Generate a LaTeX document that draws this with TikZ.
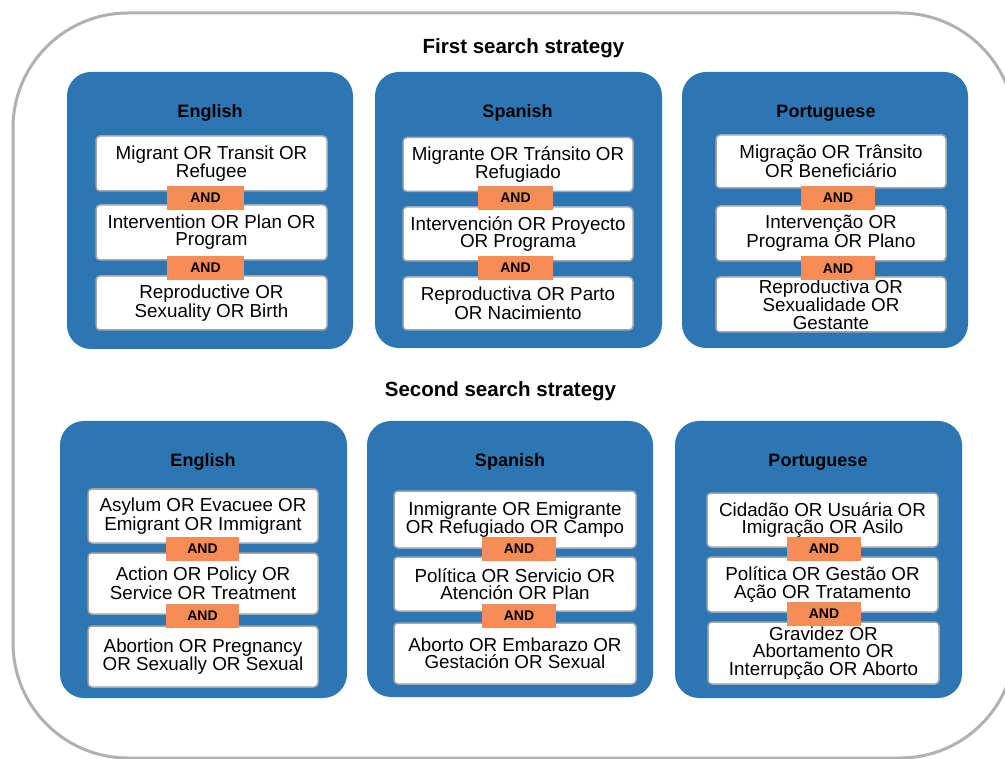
\documentclass[tikz,border=0pt]{standalone}
\usepackage{fontspec}
\setmainfont{Liberation Sans}
\definecolor{pblue}{RGB}{45,118,180}
\definecolor{andor}{RGB}{247,140,86}
\definecolor{framegray}{RGB}{178,176,176}
\definecolor{tborder}{RGB}{165,165,165}
\begin{document}
\begin{tikzpicture}[x=1pt,y=-1pt,
  panel/.style={fill=pblue, draw=none, rounded corners=24pt, inner sep=0pt},
  term/.style={fill=white, draw=tborder, line width=1.5pt, rounded corners=4pt, inner sep=0pt, align=center, font=\fontsize{18.8}{17.2}\selectfont},
  andbox/.style={fill=andor, draw=none, inner sep=0pt, minimum width=75pt, minimum height=24pt, font=\bfseries\fontsize{14}{14}\selectfont},
  lang/.style={anchor=base, inner sep=0pt, font=\bfseries\fontsize{18}{18}\selectfont},
  stitle/.style={anchor=base, inner sep=0pt, font=\bfseries\fontsize{20.5}{20}\selectfont}]
\clip (0,0) rectangle (1005,759);
\fill[white] (0,0) rectangle (1005,759);
% outer frame
\draw[framegray, line width=3pt, rounded corners=115pt] (13,13) rectangle (1015,758);
% section titles
\node[stitle] (t1) at (523.5,54) {First search strategy};
\node[stitle] (t2) at (500.5,397) {Second search strategy};

% ---------- First strategy: English
\node[panel, minimum width=286pt, minimum height=277pt] (te) at (210,210.5) {};
\node[lang] (te-t) at (210,118) {English};
\node[term, minimum width=231pt, minimum height=55pt] (te1) at (211.5,163.5) {Migrant OR Transit OR\\Refugee};
\node[term, minimum width=231pt, minimum height=55pt] (te2) at (211.5,232.5) {Intervention OR Plan OR\\Program};
\node[term, minimum width=231pt, minimum height=54pt] (te3) at (211.5,303) {Reproductive OR\\Sexuality OR Birth};
\node[andbox, minimum width=77pt] (tea1) at (205.5,198) {AND};
\node[andbox, minimum width=77pt] (tea2) at (205.5,268) {AND};

% ---------- First strategy: Spanish
\node[panel, minimum width=287pt, minimum height=276pt] (ts) at (518.5,210) {};
\node[lang] (ts-t) at (517.5,118) {Spanish};
\node[term, minimum width=230pt, minimum height=54pt] (ts1) at (518,164.5) {Migrante OR Tránsito OR\\Refugiado};
\node[term, minimum width=230pt, minimum height=54pt] (ts2) at (518,234) {Intervención OR Proyecto\\OR Programa};
\node[term, minimum width=230pt, minimum height=53pt] (ts3) at (518,303.5) {Reproductiva OR Parto\\OR Nacimiento};
\node[andbox] (tsa1) at (515.5,198) {AND};
\node[andbox] (tsa2) at (515.5,268) {AND};

% ---------- First strategy: Portuguese
\node[panel, minimum width=286pt, minimum height=276pt] (tp) at (825,210) {};
\node[lang] (tp-t) at (826,118) {Portuguese};
\node[term, minimum width=230pt, minimum height=53pt] (tp1) at (831,161.5) {Migração OR Trânsito\\OR Beneficiário};
\node[term, minimum width=230pt, minimum height=55pt] (tp2) at (831,233.5) {Intervenção OR\\Programa OR Plano};
\node[term, minimum width=230pt, minimum height=55pt] (tp3) at (831,304.5) {Reproductiva OR\\Sexualidade OR\\Gestante};
\node[andbox, minimum width=74pt] (tpa1) at (838,198) {AND};
\node[andbox, minimum width=74pt] (tpa2) at (838,268.5) {AND};

% ---------- Second strategy: English
\node[panel, minimum width=287pt, minimum height=277pt] (se) at (203.5,559.5) {};
\node[lang] (se-t) at (203,467) {English};
\node[term, minimum width=230pt, minimum height=54pt] (se1) at (203,516) {Asylum OR Evacuee OR\\Emigrant OR Immigrant};
\node[term, minimum width=230pt, minimum height=61pt] (se2) at (203,583.5) {Action OR Policy OR\\Service OR Treatment};
\node[term, minimum width=230pt, minimum height=61pt] (se3) at (203,656.5) {Abortion OR Pregnancy\\OR Sexually OR Sexual};
\node[andbox, minimum width=73pt] (sea1) at (202.5,549) {AND};
\node[andbox, minimum width=73pt] (sea2) at (202.5,616) {AND};

% ---------- Second strategy: Spanish
\node[panel, minimum width=286pt, minimum height=276pt] (ss) at (510,559) {};
\node[lang] (ss-t) at (510,467) {Spanish};
\node[term, minimum width=242pt, minimum height=57pt] (ss1) at (515,519.5) {Inmigrante OR Emigrante\\OR Refugiado OR Campo};
\node[term, minimum width=242pt, minimum height=54pt] (ss2) at (515,584) {Política OR Servicio OR\\Atención OR Plan};
\node[term, minimum width=242pt, minimum height=61pt] (ss3) at (515,653.5) {Aborto OR Embarazo OR\\Gestación OR Sexual};
\node[andbox, minimum width=74pt] (ssa1) at (519,549) {AND};
\node[andbox, minimum width=74pt] (ssa2) at (519,616) {AND};

% ---------- Second strategy: Portuguese
\node[panel, minimum width=287pt, minimum height=277pt] (sp) at (818.5,559.5) {};
\node[lang] (sp-t) at (818,467) {Portuguese};
\node[term, minimum width=231pt, minimum height=54pt] (sp1) at (822.5,520) {Cidadão OR Usuária OR\\Imigração OR Asilo};
\node[term, minimum width=231pt, minimum height=55pt] (sp2) at (822.5,584.5) {Política OR Gestão OR\\Ação OR Tratamento};
\node[term, minimum width=231pt, minimum height=62pt] (sp3) at (823.5,653) {Gravidez OR\\Abortamento OR\\Interrupção OR Aborto};
\node[andbox, minimum width=74pt] (spa1) at (824,549) {AND};
\node[andbox, minimum width=74pt] (spa2) at (824,614) {AND};
\end{tikzpicture}
\end{document}
